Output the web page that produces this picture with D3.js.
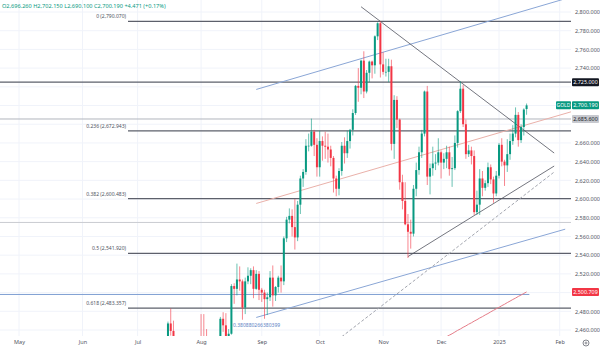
<!DOCTYPE html>
<html>
<head>
<meta charset="utf-8">
<script src="https://cdn.jsdelivr.net/npm/d3@7"></script>
<style>
body{margin:0;background:#fff;}
svg{display:block;font-family:"Noto Sans",sans-serif;}
</style>
</head>
<body>
<svg id="chart"></svg>
<script>
/* daily GOLD candles: date, open, high, low, close */
var candles = [
["2024-07-01",2326,2339,2318,2332],["2024-07-02",2332,2336,2319,2330],["2024-07-03",2330,2365,2327,2356],
["2024-07-04",2356,2364,2353,2356],["2024-07-05",2356,2392,2353,2391],["2024-07-08",2391,2393,2352,2358],
["2024-07-09",2358,2372,2354,2364],["2024-07-10",2364,2386,2356,2371],["2024-07-11",2371,2424,2369,2415],
["2024-07-12",2415,2417,2396,2411],["2024-07-15",2411,2440,2410,2422],["2024-07-16",2422,2469,2420,2467],
["2024-07-17",2467,2483,2454,2459],["2024-07-18",2459,2470,2437,2445],["2024-07-19",2445,2447,2393,2400],
["2024-07-22",2400,2413,2384,2396],["2024-07-23",2396,2411,2381,2409],["2024-07-24",2409,2431,2405,2417],
["2024-07-25",2417,2430,2353,2364],["2024-07-26",2364,2390,2355,2387],["2024-07-29",2387,2396,2379,2384],
["2024-07-30",2384,2413,2376,2410],["2024-07-31",2410,2451,2407,2447],
["2024-08-01",2447,2477,2430,2446],["2024-08-02",2446,2477,2410,2443],["2024-08-05",2443,2461,2364,2410],
["2024-08-06",2410,2421,2385,2390],["2024-08-07",2390,2408,2376,2383],["2024-08-08",2383,2431,2380,2427],
["2024-08-09",2427,2436,2415,2431],["2024-08-12",2431,2474,2424,2472],["2024-08-13",2472,2479,2458,2465],
["2024-08-14",2465,2478,2441,2447],["2024-08-15",2447,2461,2431,2456],["2024-08-16",2456,2509,2455,2507],
["2024-08-19",2507,2510,2488,2504],["2024-08-20",2504,2531,2497,2514],["2024-08-21",2514,2528,2502,2512],
["2024-08-22",2512,2514,2471,2484],["2024-08-23",2484,2516,2477,2512],["2024-08-26",2512,2527,2509,2518],
["2024-08-27",2518,2526,2509,2524],["2024-08-28",2524,2528,2494,2504],["2024-08-29",2504,2524,2503,2520],
["2024-08-30",2520,2523,2492,2503],
["2024-09-02",2503,2505,2490,2500],["2024-09-03",2500,2503,2472,2493],["2024-09-04",2493,2500,2476,2495],
["2024-09-05",2495,2523,2491,2516],["2024-09-06",2516,2529,2485,2497],["2024-09-09",2497,2507,2491,2506],
["2024-09-10",2506,2518,2500,2516],["2024-09-11",2516,2529,2500,2512],["2024-09-12",2512,2560,2508,2558],
["2024-09-13",2558,2581,2554,2578],["2024-09-16",2578,2590,2574,2582],["2024-09-17",2582,2589,2560,2570],
["2024-09-18",2570,2600,2546,2559],["2024-09-19",2559,2598,2555,2594],["2024-09-20",2594,2625,2584,2622],
["2024-09-23",2622,2632,2613,2629],["2024-09-24",2629,2664,2626,2657],["2024-09-25",2657,2670,2651,2657],
["2024-09-26",2657,2686,2656,2672],["2024-09-27",2672,2674,2646,2658],["2024-09-30",2658,2665,2624,2634],
["2024-10-01",2634,2673,2624,2662],["2024-10-02",2662,2667,2641,2657],["2024-10-03",2657,2672,2643,2656],
["2024-10-04",2656,2670,2639,2653],["2024-10-07",2653,2657,2635,2644],["2024-10-08",2644,2646,2607,2622],
["2024-10-09",2622,2625,2603,2611],["2024-10-10",2611,2633,2604,2630],["2024-10-11",2630,2661,2625,2657],
["2024-10-14",2657,2666,2638,2649],["2024-10-15",2649,2673,2644,2662],["2024-10-16",2662,2675,2654,2674],
["2024-10-17",2674,2696,2668,2692],["2024-10-18",2692,2722,2690,2721],["2024-10-21",2721,2740,2704,2719],
["2024-10-22",2719,2749,2712,2748],["2024-10-23",2748,2758,2708,2715],["2024-10-24",2715,2738,2713,2735],
["2024-10-25",2735,2748,2725,2747],["2024-10-28",2747,2748,2729,2743],["2024-10-29",2743,2775,2734,2774],
["2024-10-30",2774,2789,2770,2788],["2024-10-31",2788,2790.07,2730,2744],
["2024-11-01",2744,2757,2733,2736],["2024-11-04",2736,2750,2731,2736],["2024-11-05",2736,2750,2725,2742],
["2024-11-06",2742,2749,2652,2659],["2024-11-07",2659,2711,2643,2706],["2024-11-08",2706,2710,2676,2685],
["2024-11-11",2685,2686,2610,2618],["2024-11-12",2618,2626,2589,2598],["2024-11-13",2598,2618,2572,2573],
["2024-11-14",2573,2584,2537,2565],["2024-11-15",2565,2578,2547,2563],["2024-11-18",2563,2615,2560,2611],
["2024-11-19",2611,2639,2603,2631],["2024-11-20",2631,2656,2626,2650],["2024-11-21",2650,2674,2644,2670],
["2024-11-22",2670,2716,2667,2715],["2024-11-25",2715,2721,2615,2624],["2024-11-26",2624,2638,2605,2633],
["2024-11-27",2633,2656,2625,2638],["2024-11-28",2638,2648,2631,2639],["2024-11-29",2639,2665,2636,2650],
["2024-12-02",2650,2652,2622,2639],["2024-12-03",2639,2649,2632,2643],["2024-12-04",2643,2657,2633,2650],
["2024-12-05",2650,2656,2625,2632],["2024-12-06",2632,2645,2613,2633],["2024-12-09",2633,2668,2631,2660],
["2024-12-10",2660,2695,2655,2694],["2024-12-11",2694,2726,2692,2718],["2024-12-12",2718,2722,2677,2680],
["2024-12-13",2680,2685,2643,2648],["2024-12-16",2648,2658,2645,2652],["2024-12-17",2652,2656,2637,2646],
["2024-12-18",2646,2652,2583,2586],["2024-12-19",2586,2609,2583,2594],["2024-12-20",2594,2632,2583,2622],
["2024-12-23",2622,2630,2603,2612],["2024-12-24",2612,2620,2609,2617],["2024-12-26",2617,2639,2613,2634],
["2024-12-27",2634,2637,2616,2621],["2024-12-30",2621,2624,2596,2606],["2024-12-31",2606,2630,2603,2625],
["2025-01-02",2625,2660,2622,2658],["2025-01-03",2658,2665,2635,2640],["2025-01-06",2640,2642,2614,2636],
["2025-01-07",2636,2664,2629,2648],["2025-01-08",2648,2670,2642,2662],["2025-01-09",2662,2679,2658,2670],
["2025-01-10",2670,2698,2666,2690],["2025-01-13",2690,2693,2656,2663],["2025-01-14",2663,2680,2660,2677],
["2025-01-15",2677,2697,2668,2695.719],["2025-01-16",2696.26,2702.15,2690.10,2700.19]
];

/* 200 day moving average, starting at maStart */
var maStart = "2024-11-27";
var ma200 = [2444.4,2446.1,2447.9,2449.4,2451.2,2452.8,2454.5,2456.0,2457.8,2459.6,2461.1,2462.9,
  2464.4,2466.2,2467.7,2469.5,2471.0,2472.8,2474.3,2476.1,2477.6,2479.4,2481.0,2482.7,2484.2,
  2486.0,2487.5,2489.3,2490.9,2492.6,2494.1,2495.9,2497.4,2499.1,2500.709];

/* fibonacci retracement levels */
var fibLevels = ["0","0.236","0.382","0.5","0.618"];
var fibPrices = [2790.070,2672.943,2600.483,2541.920,2483.357];

/* horizontal rays across the whole chart */
var hLinePrices = [2725.000,2685.600,2575.000,2498.000];

/* drawn trend lines: [date, price] -> [date, price] */
var triangleTop = [["2024-10-22",2805.6],["2025-01-30",2649.2]];
var triangleBottom = [["2024-11-14",2538.5],["2025-01-30",2635.3]];
var dashedLine = [["2024-10-11",2452.8],["2025-01-30",2628.9]];
var channelTop = [["2024-08-29",2717.2],["2025-02-04",2813.3]];
var channelMid = [["2024-08-29",2595.3],["2025-02-11",2694.9]];
var channelBottom = [["2024-08-29",2473.4],["2025-02-05",2567.8]];

var monthLabels = ["May","Jun","Jul","Aug","Sep","Oct","Nov","Dec","2025","Feb"];
var monthKeys = ["2024-05","2024-06","2024-07","2024-08","2024-09","2024-10","2024-11","2024-12","2025-01","2025-02"];
var priceTicks = d3.range(2460,2801,20);

var up = "#089981", down = "#f23645";

var screen = {width:600,height:354};
var plot = {right:571,bottom:336};

var svg = d3.select("#chart")
    .attr("width",screen.width)
    .attr("height",screen.height);

/* trading calendar: weekdays without the two closed days */
var fmt = d3.timeFormat("%Y-%m-%d");
var holidays = ["2024-12-25","2025-01-01"];
var days = d3.timeDay.range(new Date(2024,4,1),new Date(2025,1,15))
    .filter(function(d){
        return d.getDay()!=0 && d.getDay()!=6 && holidays.indexOf(fmt(d))<0;
    })
    .map(fmt);
var dayIndex = {};
days.forEach(function(d,i){ dayIndex[d]=i; });

var xScale = d3.scaleLinear()
    .domain([dayIndex["2024-05-01"],dayIndex["2025-01-02"]])
    .range([19,499]);
var yScale = d3.scaleLinear()
    .domain([2460,2800])
    .range([330,12]);

var xOf = function(date){ return xScale(dayIndex[date]); };

svg.append("defs").append("clipPath").attr("id","plotClip")
    .append("rect").attr("x",0).attr("y",0)
    .attr("width",plot.right).attr("height",plot.bottom);

var monthIdx = monthKeys.map(function(m){
    return dayIndex[days.find(function(d){ return d.indexOf(m)==0; })];
});

/* grid */
var grid = svg.append("g");
grid.selectAll(".vg").data(monthIdx).enter().append("line")
    .attr("x1",function(d){return xScale(d);}).attr("x2",function(d){return xScale(d);})
    .attr("y1",0).attr("y2",plot.bottom)
    .attr("stroke","#f0f3fa").attr("stroke-width",1);
grid.selectAll(".hg").data(priceTicks).enter().append("line")
    .attr("x1",0).attr("x2",plot.right)
    .attr("y1",function(d){return yScale(d);}).attr("y2",function(d){return yScale(d);})
    .attr("stroke","#f0f3fa").attr("stroke-width",1);

var g = svg.append("g").attr("clip-path","url(#plotClip)");

/* horizontal rays */
var hColors = ["#5d606b","#b2b5be","#c9cbd1","#7f9fd3"];
var hEnds = [plot.right,plot.right,plot.right,xOf("2025-01-17")];
g.selectAll(".hl").data(hLinePrices).enter().append("line")
    .attr("x1",0).attr("x2",function(d,i){return hEnds[i];})
    .attr("y1",function(d){return yScale(d);}).attr("y2",function(d){return yScale(d);})
    .attr("stroke",function(d,i){return hColors[i];})
    .attr("stroke-width",function(d,i){return i==0?1.3:1;});

/* fib levels */
g.selectAll(".fib").data(fibPrices).enter().append("line")
    .attr("x1",128).attr("x2",plot.right)
    .attr("y1",function(d){return yScale(d);}).attr("y2",function(d){return yScale(d);})
    .attr("stroke","#5d606b").attr("stroke-width",1.3);
svg.selectAll(".fibText").data(fibPrices).enter().append("text")
    .attr("x",126).attr("y",function(d){return yScale(d)-3;})
    .attr("text-anchor","end")
    .attr("font-size",5)
    .attr("fill","#50535e")
    .text(function(d,i){ return fibLevels[i]+" ("+d3.format(",.3f")(d)+")"; });

/* trend lines */
var drawSeg = function(seg,color,width,dash)
{
    g.append("line")
        .attr("x1",xOf(seg[0][0])).attr("y1",yScale(seg[0][1]))
        .attr("x2",xOf(seg[1][0])).attr("y2",yScale(seg[1][1]))
        .attr("stroke",color).attr("stroke-width",width)
        .attr("stroke-dasharray",dash||null);
}
drawSeg(channelTop,"#8aa6d6",1);
drawSeg(channelMid,"#eab1aa",1);
drawSeg(channelBottom,"#8aa6d6",1);
drawSeg(triangleTop,"#50535e",0.8);
drawSeg(triangleBottom,"#50535e",0.8);
drawSeg(dashedLine,"#a3a6af",1,"3,2");

svg.append("text")
    .attr("x",233).attr("y",327)
    .attr("font-size",5).attr("fill","#5b82c4")
    .text("0.380880266380399");

/* moving average */
var maLine = d3.line()
    .x(function(d,i){ return xScale(dayIndex[maStart]+i); })
    .y(function(d){ return yScale(d); });
g.append("path").datum(ma200)
    .attr("d",maLine)
    .attr("fill","none").attr("stroke","#e57c88").attr("stroke-width",1);

/* candles */
var bars = g.selectAll(".candle").data(candles).enter().append("g");
bars.append("line")
    .attr("x1",function(d){return xOf(d[0]);}).attr("x2",function(d){return xOf(d[0]);})
    .attr("y1",function(d){return yScale(d[2]);}).attr("y2",function(d){return yScale(d[3]);})
    .attr("stroke",function(d){return d[4]>=d[1]?up:down;})
    .attr("stroke-opacity",0.6).attr("stroke-width",1);
bars.append("rect")
    .attr("x",function(d){return xOf(d[0])-1;})
    .attr("width",2)
    .attr("y",function(d){return yScale(Math.max(d[1],d[4]));})
    .attr("height",function(d){return Math.max(0.6,Math.abs(yScale(d[1])-yScale(d[4])));})
    .attr("fill",function(d){return d[4]>=d[1]?up:down;});

/* price boxes on the scale */
var lastClose = candles[candles.length-1][4];
var boxes = [
    {price:2725.000,fill:"#131722",text:"#fff"},
    {price:2685.600,fill:"#c7c9cf",text:"#131722"},
    {price:lastClose,fill:up,text:"#fff"},
    {price:ma200[ma200.length-1],fill:down,text:"#fff"}
];

/* axes: the tick labels hidden behind a price box are left out */
var xAxis = d3.axisBottom(xScale)
    .tickValues(monthIdx)
    .tickSize(0).tickPadding(4)
    .tickFormat(function(d,i){ return monthLabels[i]; });
var xg = svg.append("g").attr("transform","translate(0,"+plot.bottom+")").call(xAxis);
xg.select(".domain").remove();
xg.selectAll("text").attr("font-size",5.5).attr("fill","#50535e").style("font-family","Noto Sans");

var freeTicks = priceTicks.filter(function(t){
    return boxes.every(function(b){ return Math.abs(yScale(t)-yScale(b.price))>7; });
});
var yAxis = d3.axisRight(yScale)
    .tickValues(freeTicks)
    .tickSize(0).tickPadding(0)
    .tickFormat(d3.format(",.3f"));
var yg = svg.append("g").attr("transform","translate(575,0)").call(yAxis);
yg.select(".domain").remove();
yg.selectAll("text").attr("font-size",5.5).attr("fill","#50535e").style("font-family","Noto Sans");

var bx = svg.selectAll(".box").data(boxes).enter().append("g")
    .attr("transform",function(d){return "translate(572,"+(yScale(d.price)-4)+")";});
bx.append("rect").attr("width",27).attr("height",8).attr("rx",1)
    .attr("fill",function(d){return d.fill;});
bx.append("text").attr("x",13.5).attr("y",6).attr("text-anchor","middle")
    .attr("font-size",5.4)
    .attr("fill",function(d){return d.text;})
    .text(function(d){return d3.format(",.3f")(d.price);});

var tag = svg.append("g").attr("transform","translate(556,"+(yScale(lastClose)-4)+")");
tag.append("rect").attr("width",15).attr("height",8).attr("rx",1).attr("fill",up);
tag.append("text").attr("x",7.5).attr("y",6).attr("text-anchor","middle")
    .attr("font-size",5).attr("fill","#fff").text("GOLD");

/* settings icon */
svg.append("circle").attr("cx",586).attr("cy",343).attr("r",3)
    .attr("fill","none").attr("stroke","#50535e").attr("stroke-width",0.7);
svg.append("circle").attr("cx",586).attr("cy",343).attr("r",1)
    .attr("fill","none").attr("stroke","#50535e").attr("stroke-width",0.6);

/* OHLC header, change against the previous close */
var last = candles[candles.length-1];
var prev = candles[candles.length-2][4];
var f3 = d3.format(",.3f");
svg.append("text").attr("x",2).attr("y",8)
    .attr("font-size",5.6).attr("fill",up)
    .text("O"+f3(last[1])+" H"+f3(last[2])+" L"+f3(last[3])+" C"+f3(last[4])+
          " +"+(last[4]-prev).toFixed(3)+" (+"+((last[4]-prev)/prev*100).toFixed(2)+"%)");
</script>
</body>
</html>
